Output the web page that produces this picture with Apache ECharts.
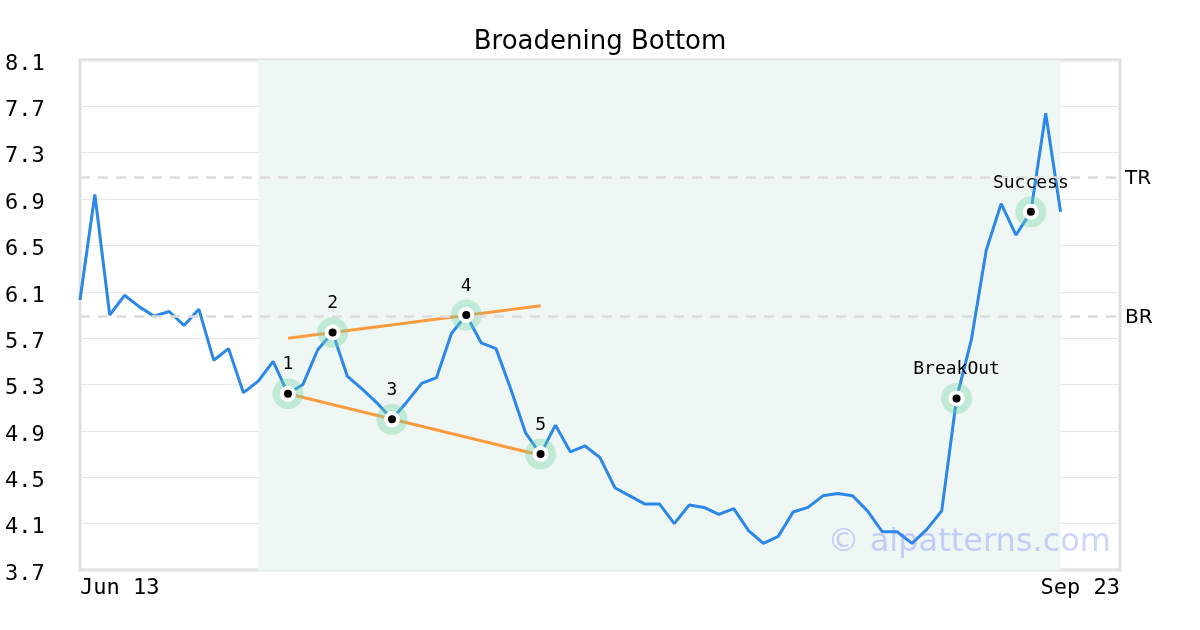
<!DOCTYPE html>
<html>
<head>
<meta charset="utf-8">
<script src="https://cdn.jsdelivr.net/npm/echarts@6/dist/echarts.min.js"></script>
<style>html,body{margin:0;padding:0;background:#fff}#c{width:1200px;height:630px}</style>
</head>
<body>
<div id="c"></div>
<script>
var title = 'Broadening Bottom';
var xLabels = ['Jun 13', 'Sep 23'];
var xMax = 70;
var prices = [6.03,6.94,5.90,6.07,5.97,5.89,5.93,5.81,5.95,5.51,
              5.61,5.23,5.33,5.50,5.22,5.30,5.60,5.75,5.37,5.26,
              5.14,5.00,5.15,5.31,5.36,5.74,5.90,5.66,5.61,5.26,
              4.88,4.70,4.95,4.72,4.77,4.67,4.41,4.34,4.27,4.27,
              4.10,4.26,4.24,4.18,4.23,4.04,3.93,3.99,4.20,4.24,
              4.34,4.36,4.34,4.21,4.03,4.03,3.93,4.05,4.21,5.18,
              5.69,6.46,6.86,6.59,6.79,7.64,6.79];
var pivotIdx = [14, 17, 21, 26, 31, 59, 64];
var pivotLabels = ['1', '2', '3', '4', '5', 'BreakOut', 'Success'];
var upperTrend = [[14, 5.70], [31, 5.98]];
var lowerTrend = [[14, 5.22], [31, 4.69]];
var levelNames = ['TR', 'BR'];
var levelValues = [7.09, 5.89];
var patternRange = [12, 66];
var yTicks = {min: 3.7, max: 8.1, step: 0.4};
var watermark = '\u00a9 aipatterns.com';

var lineData = prices.map(function (v, i) { return [i, v]; });
var pivotData = pivotIdx.map(function (i, k) { return {value: [i, prices[i]], name: pivotLabels[k]}; });

var mono = 'DejaVu Sans Mono';
var chart = echarts.init(document.getElementById('c'), null, {renderer: 'canvas'});
chart.setOption({
  animation: false,
  backgroundColor: '#fff',
  title: {
    text: title, left: 'center', top: 24,
    textStyle: {fontFamily: 'DejaVu Sans', fontSize: 26, fontWeight: 'normal', color: '#000'}
  },
  grid: {left: 80, right: 80, top: 60, bottom: 60, show: true, borderColor: '#e0e0e0', borderWidth: 3, backgroundColor: 'transparent'},
  xAxis: {
    type: 'value', min: 0, max: xMax, interval: xMax,
    axisLine: {show: false}, axisTick: {show: false}, splitLine: {show: false},
    axisLabel: {
      fontFamily: mono, fontSize: 22, color: '#000', margin: 7,
      alignMinLabel: 'left', alignMaxLabel: 'right',
      formatter: function (v) { return v === 0 ? xLabels[0] : (v === xMax ? xLabels[1] : ''); }
    }
  },
  yAxis: {
    type: 'value', min: yTicks.min, max: yTicks.max, interval: yTicks.step,
    axisLine: {show: false}, axisTick: {show: false},
    splitLine: {show: true, lineStyle: {color: '#e8e8e8', width: 1}},
    axisLabel: {
      fontFamily: mono, fontSize: 22, color: '#000', align: 'left', margin: 75,
      verticalAlign: 'top', lineHeight: 8,
      formatter: function (v) { return v.toFixed(1); }
    }
  },
  graphic: [{
    type: 'text', right: 89, top: 527, z: 100,
    style: {text: watermark, fontFamily: 'DejaVu Sans', fontSize: 32, fill: 'rgba(110,120,255,0.33)'}
  }],
  series: [
    {
      type: 'line', data: lineData, symbol: 'none', z: 2,
      lineStyle: {color: '#2b87e8', width: 3},
      markArea: {
        silent: true,
        itemStyle: {color: '#eff7f4'},
        data: [[{xAxis: patternRange[0]}, {xAxis: patternRange[1]}]]
      },
      markLine: {
        silent: true, symbol: 'none',
        lineStyle: {color: '#dddddd', type: [10, 8], width: 2.5},
        label: {position: 'end', distance: 5, fontFamily: 'DejaVu Sans', fontSize: 20, color: '#000', verticalAlign: 'top', lineHeight: 4, formatter: '{b}'},
        data: levelValues.map(function (v, k) { return {yAxis: v, name: levelNames[k]}; })
      }
    },
    {type: 'line', data: upperTrend, symbol: 'none', z: 3, lineStyle: {color: '#fb9b40', width: 3}},
    {type: 'line', data: lowerTrend, symbol: 'none', z: 3, lineStyle: {color: '#fb9b40', width: 3}},
    {
      type: 'scatter', data: pivotData.map(function (d) { return d.value; }), z: 4,
      symbolSize: 31, itemStyle: {color: 'rgba(110,210,160,0.45)'}
    },
    {
      type: 'scatter', data: pivotData, z: 5,
      symbolSize: 12, itemStyle: {color: '#000', borderColor: '#fff', borderWidth: 4, opacity: 1},
      label: {show: true, position: 'top', distance: 12, fontFamily: mono, fontSize: 18, color: '#000', formatter: '{b}'}
    }
  ]
});
</script>
</body>
</html>
